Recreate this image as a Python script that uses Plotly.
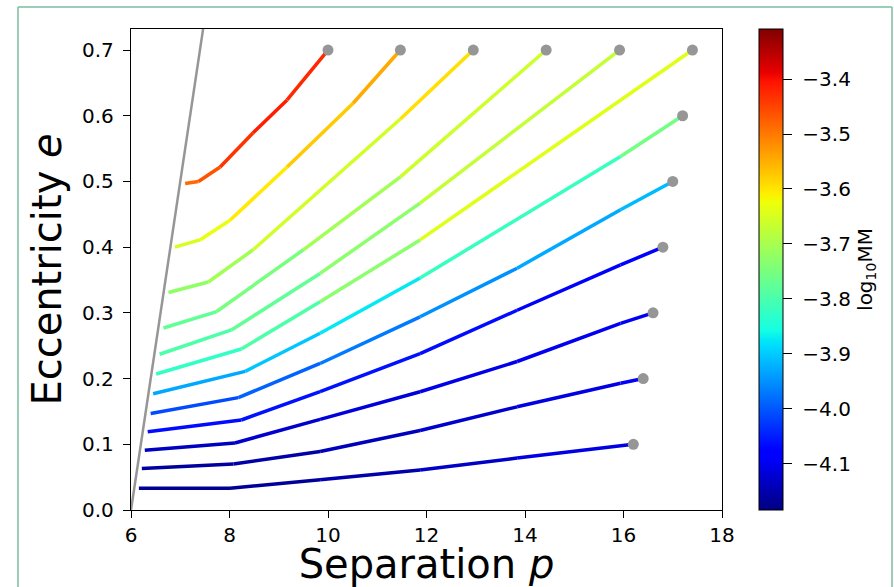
import plotly.graph_objects as go

# ---------------- data ----------------
x_ticks = [6, 8, 10, 12, 14, 16, 18]
y_ticks = [0.0, 0.1, 0.2, 0.3, 0.4, 0.5, 0.6, 0.7]
cbar_ticks = [-4.1, -4.0, -3.9, -3.8, -3.7, -3.6, -3.5, -3.4]
cmin, cmax = -4.184, -3.309

sep_p = [6.0, 7.464]
sep_e = [0.0, 0.732]

p1 = [7.10, 7.37, 7.81, 8.48, 9.17, 10.0]
e1 = [0.497, 0.500, 0.522, 0.574, 0.624, 0.700]
m1 = [-3.49, -3.48, -3.45, -3.42, -3.41, -3.44]

p2 = [6.89, 7.40, 8.01, 9.17, 10.51, 11.47]
e2 = [0.400, 0.411, 0.441, 0.522, 0.619, 0.700]
m2 = [-3.66, -3.64, -3.62, -3.59, -3.56, -3.53]

p3 = [6.76, 7.57, 8.48, 11.47, 12.95]
e3 = [0.331, 0.347, 0.396, 0.595, 0.700]
m3 = [-3.73, -3.72, -3.69, -3.62, -3.57]

p4 = [6.66, 7.74, 9.50, 11.47, 14.43]
e4 = [0.277, 0.302, 0.396, 0.507, 0.700]
m4 = [-3.78, -3.77, -3.73, -3.68, -3.64]

p5 = [6.58, 8.04, 9.84, 11.87, 15.92]
e5 = [0.237, 0.274, 0.360, 0.467, 0.700]
m5 = [-3.80, -3.79, -3.76, -3.70, -3.64]

p6 = [6.51, 8.24, 9.84, 11.87, 17.40]
e6 = [0.207, 0.245, 0.317, 0.411, 0.700]
m6 = [-3.83, -3.82, -3.77, -3.69, -3.59]

p7 = [6.45, 8.32, 9.84, 11.87, 15.94, 17.20]
e7 = [0.177, 0.211, 0.269, 0.353, 0.538, 0.600]
m7 = [-3.94, -3.92, -3.89, -3.86, -3.78, -3.73]

p8 = [6.40, 8.18, 9.84, 11.87, 13.84, 15.94, 17.00]
e8 = [0.147, 0.171, 0.223, 0.294, 0.368, 0.457, 0.500]
m8 = [-4.02, -4.00, -3.98, -3.96, -3.94, -3.92, -3.91]

p9 = [6.34, 8.24, 9.84, 11.87, 13.84, 15.94, 16.80]
e9 = [0.119, 0.137, 0.180, 0.238, 0.304, 0.373, 0.400]
m9 = [-4.07, -4.06, -4.06, -4.06, -4.07, -4.08, -4.08]

p10 = [6.28, 8.11, 9.84, 11.87, 13.84, 15.94, 16.60]
e10 = [0.091, 0.102, 0.138, 0.180, 0.226, 0.284, 0.300]
m10 = [-4.14, -4.13, -4.12, -4.11, -4.10, -4.10, -4.09]

p11 = [6.22, 8.08, 9.84, 11.87, 13.84, 15.94, 16.40]
e11 = [0.063, 0.070, 0.089, 0.121, 0.157, 0.193, 0.200]
m11 = [-4.16, -4.16, -4.15, -4.13, -4.12, -4.10, -4.08]

p12 = [6.16, 8.01, 9.84, 11.87, 13.84, 16.20]
e12 = [0.033, 0.033, 0.046, 0.061, 0.079, 0.100]
m12 = [-4.17, -4.17, -4.16, -4.14, -4.12, -4.10]

curves = [(p1, e1, m1), (p2, e2, m2), (p3, e3, m3), (p4, e4, m4),
          (p5, e5, m5), (p6, e6, m6), (p7, e7, m7), (p8, e8, m8),
          (p9, e9, m9), (p10, e10, m10), (p11, e11, m11), (p12, e12, m12)]

# matplotlib 'jet' segment data
JET_R = [(0, 0), (0.35, 0), (0.66, 1), (0.89, 1), (1, 0.5)]
JET_G = [(0, 0), (0.125, 0), (0.375, 1), (0.64, 1), (0.91, 0), (1, 0)]
JET_B = [(0, 0.5), (0.11, 1), (0.34, 1), (0.65, 0), (1, 0)]


def _interp(pts, t):
    for (x0, y0), (x1, y1) in zip(pts[:-1], pts[1:]):
        if x0 <= t <= x1:
            return y0 + (y1 - y0) * (t - x0) / (x1 - x0)
    return pts[-1][1] if t > pts[-1][0] else pts[0][1]


def jet(t):
    t = min(max(t, 0.0), 1.0)
    r, g, b = (_interp(c, t) for c in (JET_R, JET_G, JET_B))
    return f"rgb({round(r*255)},{round(g*255)},{round(b*255)})"


def value_color(v):
    return jet((v - cmin) / (cmax - cmin))


breaks = [0, 0.11, 0.125, 0.34, 0.35, 0.375, 0.64, 0.65, 0.66, 0.89, 0.91, 1]
jet_scale = [[b, jet(b)] for b in breaks]

fig = go.Figure()

# separatrix
fig.add_trace(go.Scatter(x=sep_p, y=sep_e, mode="lines",
                         line=dict(color="rgb(150,150,150)", width=2.5),
                         hoverinfo="skip"))

for p, e, m in curves:
    for i in range(len(p) - 1):
        fig.add_trace(go.Scatter(
            x=[p[i], p[i + 1]], y=[e[i], e[i + 1]], mode="lines",
            line=dict(color=value_color(0.5 * (m[i] + m[i + 1])), width=3.5),
            hoverinfo="skip"))

end_p = [c[0][-1] for c in curves]
end_e = [c[1][-1] for c in curves]
fig.add_trace(go.Scatter(x=end_p, y=end_e, mode="markers",
                         marker=dict(color="rgb(150,150,150)", size=11),
                         hoverinfo="skip", cliponaxis=False))

# colorbar carrier
fig.add_trace(go.Scatter(
    x=[6, 6], y=[0, 0], mode="markers",
    marker=dict(size=0.1, opacity=0, color=[cmin, cmax], cmin=cmin, cmax=cmax,
                colorscale=jet_scale, showscale=True,
                colorbar=dict(
                    x=(759 - 131) / 591, xanchor="left", xpad=0,
                    y=0.5, yanchor="middle", ypad=0,
                    len=481, lenmode="pixels", thickness=24,
                    outlinecolor="black", outlinewidth=1,
                    tickvals=cbar_ticks,
                    ticktext=[f"\u00a0\u2212{abs(v):.1f}" for v in cbar_ticks],
                    ticks="outside", ticklen=9, tickcolor="black",
                    tickfont=dict(size=20, color="black"),
                    title=dict(text="log<sub>10</sub>MM", side="right",
                               font=dict(size=20, color="black")))),
    hoverinfo="skip"))

font_family = "DejaVu Sans"
fig.update_layout(
    width=894, height=587,
    margin=dict(l=131, r=172, t=29, b=77),
    paper_bgcolor="white", plot_bgcolor="white",
    showlegend=False,
    font=dict(family=font_family, color="black"),
    xaxis=dict(range=[6, 18], tickvals=x_ticks, ticktext=[str(v) for v in x_ticks],
               ticks="outside", ticklen=7, tickcolor="black",
               showline=True, linecolor="black", linewidth=1.3, mirror=True,
               showgrid=False, zeroline=False,
               tickfont=dict(size=20),
               title=dict(text="Separation <i>p</i>", font=dict(size=40), standoff=0)),
    yaxis=dict(range=[0, 0.732], tickvals=y_ticks, ticktext=[f"{v:.1f}" for v in y_ticks],
               ticks="outside", ticklen=7, tickcolor="black",
               showline=True, linecolor="black", linewidth=1.3, mirror=True,
               showgrid=False, zeroline=False, ticklabelstandoff=5,
               tickfont=dict(size=20),
               title=dict(text="Eccentricity <i>e</i>", font=dict(size=40), standoff=8)),
)

# outer frame (greenish border of the figure panel)
bx0 = (18 - 131) / 591
bx1 = (892 - 131) / 591
by1 = (510 - 7) / 481
by0 = (510 - 620) / 481
border = dict(color="rgb(120,190,160)", width=1.5)
for x0, y0, x1, y1 in [(bx0, by0, bx0, by1), (bx0, by1, bx1, by1), (bx1, by1, bx1, by0)]:
    fig.add_shape(type="line", xref="paper", yref="paper",
                  x0=x0, y0=y0, x1=x1, y1=y1, line=border)

fig.write_html("out.html")
